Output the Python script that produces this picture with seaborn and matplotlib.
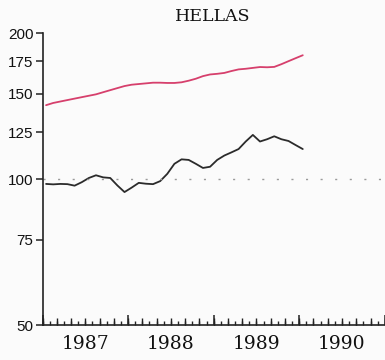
import numpy as np
import pandas as pd
import seaborn as sns
from matplotlib import pyplot as plt
from matplotlib.ticker import NullLocator

# monthly index values, Jan 1987 .. Jan 1990
months = pd.date_range("1987-01", "1990-01", freq="MS")
red_values = [142.0, 143.5, 144.5, 145.5, 146.5, 147.5, 148.5, 149.5, 151.0, 152.5,
              154.0, 155.5, 156.5, 157.0, 157.5, 158.0, 158.0, 157.8, 157.8, 158.3,
              159.5, 161.0, 163.0, 164.3, 164.8, 165.5, 167.0, 168.3, 168.8, 169.5,
              170.2, 170.0, 170.3, 172.5, 175.0, 177.5, 180.0]
black_values = [97.7, 97.5, 97.7, 97.6, 96.9, 98.5, 100.5, 101.8, 100.8, 100.5,
                97.0, 94.0, 96.0, 98.2, 97.8, 97.6, 99.0, 102.5, 107.5, 109.8,
                109.5, 107.5, 105.4, 106.0, 109.5, 111.8, 113.5, 115.3, 119.5, 123.3,
                119.5, 120.8, 122.5, 120.8, 119.8, 117.5, 115.3]
years = [1987, 1988, 1989, 1990]
y_ticks = [50, 75, 100, 125, 150, 175, 200]

t = months.year + (months.month - 0.5) / 12
data = pd.concat([
    pd.DataFrame({"t": t, "value": red_values, "series": "red"}),
    pd.DataFrame({"t": t, "value": black_values, "series": "black"}),
])

sns.set_style("ticks")
fig = plt.figure(figsize=(3.85, 3.6), dpi=100, facecolor="#fbfbfb")
ax = fig.add_axes([0.1104, 0.0972, 0.889, 0.811])
ax.set_facecolor("#fbfbfb")

sns.lineplot(data, x="t", y="value", hue="series", palette={"red": "#d63f6c", "black": "#2b2b2b"},
             linewidth=1.3, legend=False, ax=ax)
ax.axhline(100, color="#9a9a9a", linewidth=1.0, linestyle=(0, (1.5, 9)))

ax.set_yscale("log")
ax.set_ylim(50, 200)
ax.set_yticks(y_ticks)
ax.set_yticklabels([str(v) for v in y_ticks], fontfamily="Liberation Sans", fontsize=11, color="#111111")
ax.yaxis.set_minor_locator(NullLocator())
ax.tick_params(axis="y", direction="out", length=5, width=1.1, pad=1.5, color="#222222")

# year labels sit mid-year, tick marks: monthly (short), every 2nd month, year boundary (long)
ax.set_xlim(1987, 1991)
ax.xaxis.remove_overlapping_locs = False
ax.set_xticks([y + 0.5 for y in years])
ax.set_xticklabels([str(y) for y in years], fontfamily="DejaVu Serif", fontsize=13.5, color="#111111")
ax.tick_params(axis="x", which="major", length=0, pad=7)
ax.set_xticks(np.arange(1987, 1991.01, 1 / 12), minor=True)
ax.tick_params(axis="x", which="minor", direction="in", length=3.2, width=1.0, color="#222222")

two_month = ax.secondary_xaxis("bottom")
two_month.set_xticks(np.arange(1987, 1991.01, 2 / 12), labels=[])
two_month.tick_params(direction="in", length=5, width=1.0, color="#222222")
two_month.spines["bottom"].set_visible(False)

boundary = ax.secondary_xaxis("bottom")
boundary.set_xticks(years + [1991], labels=[])
boundary.tick_params(direction="in", length=7.5, width=1.1, color="#222222")
boundary.spines["bottom"].set_visible(False)

ax.set_xlabel("")
ax.set_ylabel("")
for side in ["top", "right"]:
    ax.spines[side].set_visible(False)
for side in ["left", "bottom"]:
    ax.spines[side].set_linewidth(1.2)
    ax.spines[side].set_color("#222222")

fig.text(0.553, 0.953, "HELLAS", ha="center", va="center", fontfamily="DejaVu Serif", fontsize=12.5,
         color="#111111")

plt.savefig("out.png", dpi=100, facecolor=fig.get_facecolor())
